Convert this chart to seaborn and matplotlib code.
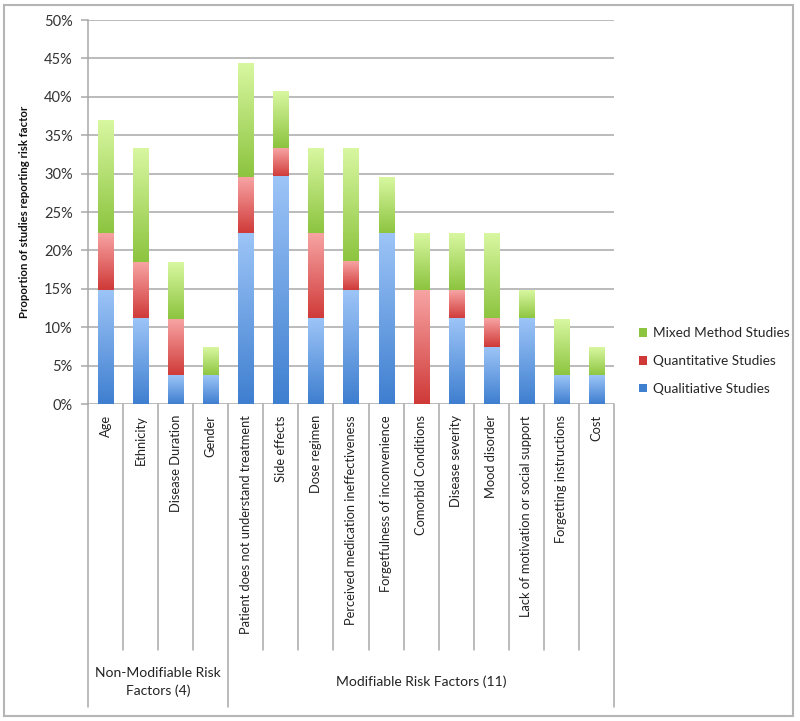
import numpy as np
import pandas as pd
import matplotlib
matplotlib.use("Agg")
import matplotlib.pyplot as plt
import matplotlib.transforms as mtransforms
from matplotlib.colors import LinearSegmentedColormap
from matplotlib.patches import Patch, Rectangle
import seaborn as sns

# Data (proportion of studies, %)
factors = ["Age", "Ethnicity", "Disease Duration", "Gender",
           "Patient does not understand treatment", "Side effects", "Dose regimen",
           "Perceived medication ineffectiveness", "Forgetfulness of inconvenience",
           "Comorbid Conditions", "Disease severity", "Mood disorder",
           "Lack of motivation or social support", "Forgetting instructions", "Cost"]
qualitative = [14.8, 11.1, 3.7, 3.7, 22.2, 29.6, 11.1, 14.8, 22.2, 0.0, 11.1, 7.4, 11.1, 3.7, 3.7]
quantitative = [7.4, 7.4, 7.4, 0.0, 7.4, 3.7, 11.1, 3.7, 0.0, 14.8, 3.7, 3.7, 0.0, 0.0, 0.0]
mixed = [14.8, 14.8, 7.4, 3.7, 14.8, 7.4, 11.1, 14.8, 7.4, 7.4, 7.4, 11.1, 3.7, 7.4, 3.7]
groups = ["Non-Modifiable Risk\nFactors (4)", "Modifiable Risk Factors (11)"]
group_sizes = [4, 11]
series_names = ["Qualitiative Studies", "Quantitative Studies", "Mixed Method Studies"]
yticks = [0, 5, 10, 15, 20, 25, 30, 35, 40, 45, 50]

sns.set_theme(style="white")
plt.rcParams["font.family"] = ["Lato", "DejaVu Sans"]

# gradient colours: (top/light, bottom/dark)
grad = {
    "Qualitiative Studies": ("#9cc4f7", "#3f7fd0"),
    "Quantitative Studies": ("#f7a3a3", "#cf3a38"),
    "Mixed Method Studies": ("#d8f7a0", "#8cc43f"),
}

df = pd.DataFrame({"factor": factors, "qual": qualitative,
                   "quant": quantitative, "mixed": mixed})
df["c1"] = df["qual"]
df["c2"] = df["qual"] + df["quant"]
df["c3"] = df["c2"] + df["mixed"]

fig = plt.figure(figsize=(8, 7.21), dpi=100)
ax = fig.add_axes([88 / 800, 1 - 404 / 721, (614 - 88) / 800, (404 - 20) / 721])

bar_w = 0.43
layers = [("c3", "c2", "Mixed Method Studies"),
          ("c2", "c1", "Quantitative Studies"),
          ("c1", None, "Qualitiative Studies")]

for top_col, bot_col, name in layers:
    n_before = len(ax.patches)
    sns.barplot(data=df, x="factor", y=top_col, order=factors, color=grad[name][1],
                width=bar_w, ax=ax, zorder=3, saturation=1)
    new = ax.patches[n_before:]
    cmap = LinearSegmentedColormap.from_list(name, [grad[name][1], grad[name][0]])
    img = cmap(np.linspace(0, 1, 64))[:, None, :3]
    for i, p in enumerate(new):
        p.set_facecolor("none")
        p.set_edgecolor("none")
        top = df[top_col].iloc[i]
        bot = 0 if bot_col is None else df[bot_col].iloc[i]
        if top - bot <= 0:
            continue
        x0 = p.get_x()
        ax.imshow(img, extent=[x0, x0 + p.get_width(), bot, top], origin="lower",
                  aspect="auto", zorder=4, interpolation="bilinear")

ax.set_xlim(-0.5, len(factors) - 0.5)
ax.set_ylim(0, 50)
ax.set_yticks(yticks)
ax.set_yticklabels([f"{v}%" for v in yticks], fontsize=10.5, color="#333333")
ax.yaxis.grid(True, color="#a8a8a8", linewidth=1.1, zorder=0)
ax.set_axisbelow(True)
for s in ["top", "right", "bottom"]:
    ax.spines[s].set_visible(False)
ax.spines["left"].set_color("#a8a8a8")
ax.spines["left"].set_linewidth(1.1)
ax.tick_params(axis="y", left=True, length=5, width=1.1, color="#a8a8a8", pad=6)
ax.tick_params(axis="x", bottom=False, length=0, pad=8)
ax.set_xticks(range(len(factors)))
ax.set_xticklabels(factors, rotation=90, fontsize=9.3, color="#222222", va="top")
ax.set_xlabel("")
ax.set_ylabel("Proportion of studies reporting risk factor", fontsize=8.2,
              fontweight="bold", color="#111111", labelpad=10)

# category separators and group boxes below the axis
trans = mtransforms.blended_transform_factory(ax.transData, ax.transAxes)
sep_bottom = -(650 - 404) / 384
grp_bottom = -(707 - 404) / 384
boundaries = np.cumsum([0] + group_sizes) - 0.5
for i in range(len(factors) + 1):
    xb = i - 0.5
    yb = grp_bottom if xb in boundaries else sep_bottom
    ax.plot([xb, xb], [0, yb], color="#a8a8a8", lw=1.1, transform=trans, clip_on=False)

starts = boundaries[:-1]
for g, s, n in zip(groups, starts, group_sizes):
    ax.text(s + n / 2, -(682 - 404) / 384, g, transform=trans, ha="center", va="center",
            fontsize=10, color="#222222", linespacing=1.5)

handles = [Patch(facecolor=grad[n][1], edgecolor="none") for n in reversed(series_names)]
fig.legend(handles, list(reversed(series_names)), loc="center left",
           bbox_to_anchor=(627 / 800, 1 - 361 / 721), frameon=False, fontsize=9.8,
           handlelength=0.6, handleheight=0.6, handletextpad=0.4, labelspacing=1.15)

fig.patches.append(Rectangle((4 / 800, 5 / 721), 789 / 800, 711 / 721, fill=False,
                             edgecolor="#b5b5b5", linewidth=1.5, transform=fig.transFigure,
                             figure=fig))

fig.savefig("out.png", dpi=100)
